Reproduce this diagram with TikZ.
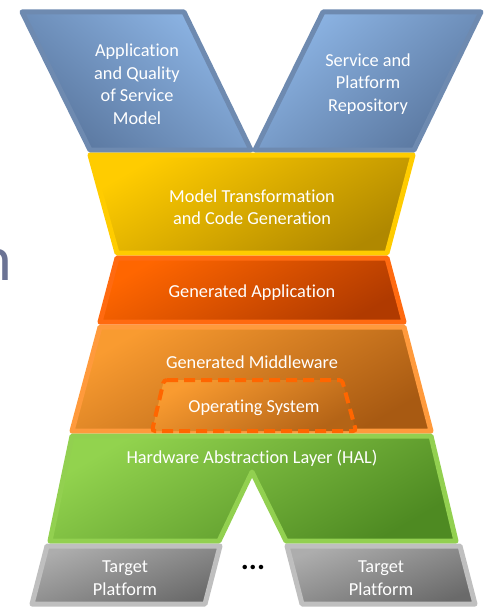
\documentclass[tikz,border=0pt]{standalone}
\usepackage{fontspec}
\setmainfont{Carlito}[Ligatures=NoCommon]
\definecolor{blueEdge}{HTML}{6E8AB0}
\definecolor{blueLight}{HTML}{8DB5E5}
\definecolor{blueDark}{HTML}{5A779F}
\definecolor{yelEdge}{HTML}{FFCC00}
\definecolor{yelLight}{HTML}{FFCC00}
\definecolor{yelDark}{HTML}{B08800}
\definecolor{appEdge}{HTML}{FF6A10}
\definecolor{appLight}{HTML}{FF6600}
\definecolor{appDark}{HTML}{B03A00}
\definecolor{midEdge}{HTML}{FF9A3C}
\definecolor{midLight}{HTML}{F99B30}
\definecolor{midDark}{HTML}{A85A12}
\definecolor{osEdge}{HTML}{FF6600}
\definecolor{grnEdge}{HTML}{92D050}
\definecolor{grnLight}{HTML}{92D34E}
\definecolor{grnDark}{HTML}{4E8A22}
\definecolor{gryEdge}{HTML}{BFBFBF}
\definecolor{gryLight}{HTML}{ADADAD}
\definecolor{gryDark}{HTML}{6A6A6A}
\definecolor{titleInk}{HTML}{6B7394}
\begin{document}
\begin{tikzpicture}[x=1pt,y=-1pt,
  layer/.style={line width=5pt, line join=round},
  lbl/.style={text=white, font=\fontsize{18.3}{22.5}\selectfont, align=center, inner sep=0pt},
]
\useasboundingbox (0,0) rectangle (487,607);

% fragment of a heading cut by the left edge
\node[anchor=base east, text=titleInk, font=\fontsize{64}{64}\selectfont, inner sep=0pt] (headfrag) at (12,280) {n};

% two input models forming the upper V
\draw[layer, draw=blueEdge, top color=blueLight, bottom color=blueDark, shading angle=-40]
  (22,12) -- (184,12) -- (251,150) -- (90,150) -- cycle;
\draw[layer, draw=blueEdge, top color=blueLight, bottom color=blueDark, shading angle=40]
  (323,12) -- (481,12) -- (414,150) -- (255,150) -- cycle;

% transformation step
\draw[layer, draw=yelEdge, top color=yelLight, bottom color=yelDark, shading angle=30]
  (90,155) -- (413,155) -- (387,253) -- (117,253) -- cycle;

% generated application
\draw[layer, draw=appEdge, top color=appLight, bottom color=appDark, shading angle=30]
  (117,258) -- (387,258) -- (404,322) -- (100,322) -- cycle;

% generated middleware
\draw[layer, draw=midEdge, top color=midLight, bottom color=midDark, shading angle=30]
  (100,327) -- (404,327) -- (431,431) -- (72,431) -- cycle;

% operating system inside the middleware
\draw[line width=4pt, draw=osEdge, dash pattern=on 11pt off 6pt, rounded corners=3pt,
      top color=midLight, bottom color=midDark!85!midLight, shading angle=30]
  (164,380) -- (342,380) -- (356,431) -- (152,431) -- cycle;

% hardware abstraction layer with the lower notch
\draw[layer, draw=grnEdge, top color=grnLight, bottom color=grnDark, shading angle=30]
  (72,436) -- (431,436) -- (456,541) -- (286,541) -- (252,472) -- (219,541) -- (50,541) -- cycle;

% target platforms
\draw[layer, draw=gryEdge, top color=gryLight, bottom color=gryDark, shading angle=20]
  (47,546) -- (220,546) -- (205,604) -- (32,604) -- cycle;
\draw[layer, draw=gryEdge, top color=gryLight, bottom color=gryDark, shading angle=20]
  (287,546) -- (460,546) -- (475,604) -- (302,604) -- cycle;

% labels
\node[lbl] (appmodel) at (137,84) {Application\\and Quality\\of Service\\Model};
\node[lbl] (repo) at (368,84) {Service and\\Platform\\Repository};
\node[lbl] (transform) at (252,207) {Model Transformation\\and Code Generation};
\node[lbl] (genapp) at (252,293) {Generated Application};
\node[lbl] (genmw) at (252,362) {Generated Middleware};
\node[lbl] (os) at (254,408) {Operating System};
\node[lbl] (hal) at (252,458) {Hardware Abstraction Layer (HAL)};
\node[lbl] (tp1) at (125,578) {Target\\Platform};
\node[lbl] (tp2) at (381,578) {Target\\Platform};
\node[inner sep=0pt, font=\fontsize{30}{30}\selectfont\bfseries] (more) at (253,567) {...};
\end{tikzpicture}
\end{document}
